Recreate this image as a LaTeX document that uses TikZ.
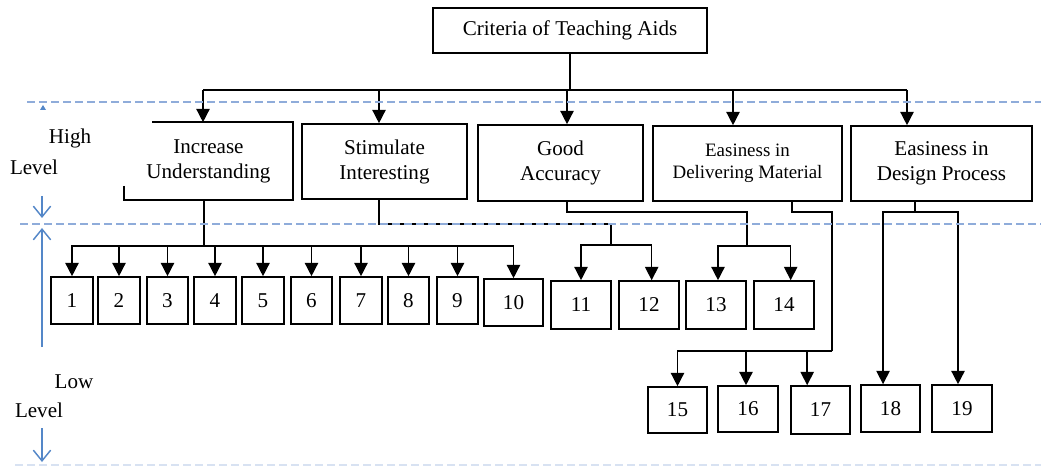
\documentclass[tikz,border=0pt]{standalone}
\usepackage{fontspec}
\setmainfont{Liberation Serif}
\usetikzlibrary{arrows.meta,calc}
\definecolor{dashblue}{RGB}{143,172,218}
\definecolor{arrblue}{RGB}{84,135,200}
\newcommand\drawbox[7][]{\node[box,#1,minimum width={(#5-#3)*0.75pt},minimum height={(#6-#4)*0.75pt}] (#2) at ({(#3+#5)/2},{(#4+#6)/2}) {#7};}
\begin{document}
\begin{tikzpicture}[x=0.75pt,y=-0.75pt,
  box/.style={draw,line width=1.2pt,inner sep=0pt,align=center,font=\fontsize{15.8}{18.75}\selectfont},
  small/.style={font=\fontsize{14.2}{16.5}\selectfont},
  ln/.style={line width=1.1pt},
  arr/.style={line width=1.1pt,-{Triangle[length=10pt,width=10pt]}},
  barrow/.style={arrblue,line width=1.1pt,-{Straight Barb[length=8pt,width=13pt]}},
  level/.style={font=\fontsize{15.8}{18.75}\selectfont,inner sep=0pt},
  guide/.style={dashblue,line width=0.9pt,dash pattern=on 6pt off 3pt}]
\useasboundingbox (0,0) rectangle (1041,466);

% boxes
\drawbox{top}{433}{8}{707}{53}{Criteria of Teaching Aids}
\drawbox[draw=none]{IU}{125}{123}{292}{199}{Increase\\Understanding}
\draw[line width=1.2pt] ([yshift=14*0.75pt]IU.south west) -- (IU.south west) -- (IU.south east) -- (IU.north east) -- ([xshift=28*0.75pt]IU.north west);
\drawbox{SI}{302}{124}{467}{199}{Stimulate\\Interesting}
\drawbox{GA}{478}{125}{643}{201}{Good\\Accuracy}
\drawbox[small]{ED}{653}{126}{842}{201}{Easiness in\\Delivering Material}
\drawbox{DP}{851}{126}{1032}{201}{Easiness in\\Design Process}

\drawbox{b1}{51}{277}{93}{324}{1}
\drawbox{b2}{98}{277}{140}{324}{2}
\drawbox{b3}{147}{277}{188}{324}{3}
\drawbox{b4}{194}{277}{236}{324}{4}
\drawbox{b5}{242}{277}{284}{324}{5}
\drawbox{b6}{291}{277}{332}{324}{6}
\drawbox{b7}{340}{277}{382}{324}{7}
\drawbox{b8}{388}{277}{429}{324}{8}
\drawbox{b9}{437}{277}{478}{324}{9}
\drawbox{b10}{484}{279}{543}{326}{10}
\drawbox{b11}{551}{281}{611}{329}{11}
\drawbox{b12}{619}{281}{679}{329}{12}
\drawbox{b13}{686}{281}{746}{329}{13}
\drawbox{b14}{754}{281}{814}{329}{14}
\drawbox{b15}{648}{387}{707}{433}{15}
\drawbox{b16}{718}{386}{778}{432}{16}
\drawbox{b17}{791}{386}{850}{434}{17}
\drawbox{b18}{861}{385}{920}{432}{18}
\drawbox{b19}{932}{385}{992}{432}{19}

% top level connectors
\coordinate (j1) at (203,90);
\coordinate (j2) at (379,90);
\coordinate (j3) at (567,90);
\coordinate (j4) at (733,90);
\coordinate (j5) at (907,90);
\draw[ln] (top.south) -- (top.south |- j1);
\draw[ln] (j1) -- (j5);
\foreach \n/\b in {j1/IU,j2/SI,j3/GA,j4/ED,j5/DP} \draw[arr] (\n) -- (\n |- \b.north);

% Increase Understanding -> 1..10
\coordinate (k1) at (204,246);
\draw[ln] (k1 |- IU.south) -- (k1);
\foreach \i in {1,...,10} \draw[arr] (k1) -| (b\i.north);

% Stimulate Interesting -> 11, 12
\coordinate (s1) at (379,224);
\coordinate (s2) at (611,245);
\draw[ln] (s1 |- SI.south) -- (s1) -| (s2);
\draw[arr] (s2) -| (b11.north);
\draw[arr] (s2) -| ([xshift=2pt]b12.north);

% Good Accuracy -> 13, 14
\coordinate (g1) at (567,212);
\coordinate (g2) at (747,246);
\draw[ln] (g1 |- GA.south) -- (g1) -| (g2);
\draw[arr] (g2) -| ([xshift=1.5pt]b13.north);
\draw[arr] (g2) -| ([xshift=5pt]b14.north);

% Easiness in Delivering Material -> 15, 16, 17
\coordinate (e1) at (792,212);
\coordinate (e2) at (832,351);
\draw[ln] (e1 |- ED.south) -- (e1) -| (e2);
\draw[arr] (e2) -| (b15.north);
\draw[arr] (e2) -| ([xshift=-1.5pt]b16.north);
\draw[arr] (e2) -| ([xshift=-10pt]b17.north);

% Easiness in Design Process -> 18, 19
\coordinate (d1) at (915,212);
\draw[ln] (d1 |- DP.south) -- (d1);
\draw[arr] (d1) -| ([xshift=-5.6pt]b18.north);
\draw[arr] (d1) -| ([xshift=-3pt]b19.north);

% guide lines
\draw[guide] (27,102) -- (1041,102);
\draw[guide] (20,224) -- (1041,224);
\draw[guide,dashblue!35] (15,465) -- (1041,465);

% level labels
\node[level] (high) at (70,138) {High};
\node[level] (hlevel) at (34,167) {Level};
\node[level] (low) at (74,382) {Low};
\node[level] (llevel) at (39,410) {Level};
\fill[arrblue] (40,110) -- (43,105) -- (46,110) -- cycle;
\coordinate (a1) at (42,196);
\coordinate (a2) at (42,218);
\coordinate (a3) at (42,347);
\coordinate (a4) at (42,228);
\coordinate (a5) at (42,428);
\coordinate (a6) at (42,462);
\draw[barrow] (a1) -- (a2);
\draw[barrow] (a3) -- (a4);
\draw[barrow] (a5) -- (a6);
\end{tikzpicture}
\end{document}
